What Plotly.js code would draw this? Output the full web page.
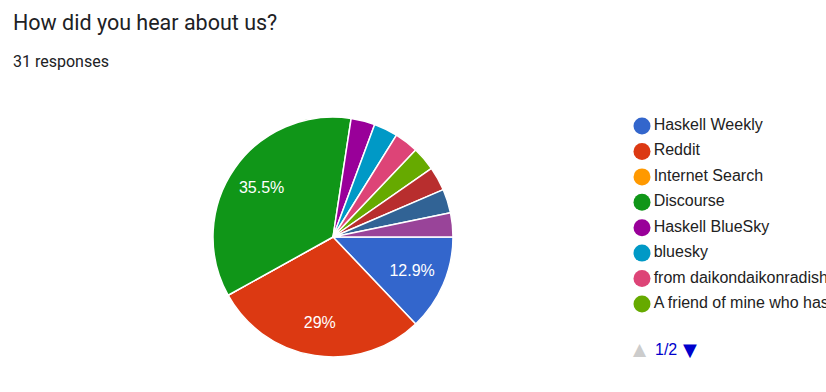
<!DOCTYPE html>
<html>
<head>
<meta charset="utf-8">
<script src="https://cdn.plot.ly/plotly-3.0.1.min.js"></script>
<style>
  html, body { margin: 0; padding: 0; background: #fff; overflow: hidden; }
  #chart { width: 826px; height: 392px; }
</style>
</head>
<body>
<div id="chart"></div>
<script>
// ---- data ----
const categories = [
  "Haskell Weekly",
  "Reddit",
  "Internet Search",
  "Discourse",
  "Haskell BlueSky",
  "bluesky",
  "from daikondaikonradish",
  "A friend of mine who has",
  "Other answer 1",
  "Other answer 2",
  "Other answer 3"
];
const counts = [4, 9, 0, 11, 1, 1, 1, 1, 1, 1, 1];
const sliceColors = ["#3366cc", "#dc3912", "#ff9900", "#109618", "#990099", "#0099c6",
                     "#dd4477", "#66aa00", "#b82e2e", "#316395", "#994499"];
const legendPageSize = 8;
const titleText = "How did you hear about us?";
const subtitleText = "31 responses";

// ---- derived ----
const total = counts.reduce((a, b) => a + b, 0);
const pctText = counts.map(v => {
  const p = v / total * 100;
  if (p < 5) return "";
  const r = Math.round(p * 10) / 10;
  return (r % 1 === 0 ? r.toFixed(0) : r.toFixed(1)) + "%";
});
// label placement: first slice label drawn by the solid pie, the others on an outer ring
const onRing = counts.map((_, i) => i !== 0);
const pieText = pctText.map((t, i) => onRing[i] ? "" : t);
const ringText = pctText.map((t, i) => onRing[i] ? t : "");

const legendLabels = categories.slice(0, legendPageSize);
const legendColors = sliceColors.slice(0, legendPageSize);
const legendIdx = legendLabels.map((_, i) => i);

const W = 826, H = 392;
const px = v => v / W, py = v => 1 - v / H;
const pieDomain = { x: [px(213), px(453)], y: [py(357), py(117)] };
const labelFont = { family: "Liberation Sans, Arial, sans-serif", size: 16, color: "#ffffff" };

const pie = {
  type: "pie",
  labels: categories,
  values: counts,
  sort: false,
  direction: "clockwise",
  rotation: 90,
  text: pieText,
  textinfo: "text",
  textposition: "inside",
  insidetextorientation: "horizontal",
  insidetextfont: labelFont,
  marker: { colors: sliceColors, line: { color: "#ffffff", width: 1.5 } },
  domain: pieDomain,
  showlegend: false,
  hoverinfo: "label+value+percent"
};

const ring = {
  type: "pie",
  labels: categories,
  values: counts,
  sort: false,
  direction: "clockwise",
  rotation: 90,
  hole: 0.45,
  text: ringText,
  textinfo: "text",
  textposition: "inside",
  insidetextorientation: "horizontal",
  insidetextfont: labelFont,
  marker: { colors: sliceColors.map(() => "rgba(0,0,0,0)"), line: { width: 0 } },
  domain: pieDomain,
  showlegend: false,
  hoverinfo: "skip"
};

const legend = {
  type: "scatter",
  mode: "markers+text",
  x: legendIdx.map(() => 0),
  y: legendIdx,
  text: legendLabels,
  textposition: "middle right",
  textfont: { family: "Liberation Sans, Arial, sans-serif", size: 16, color: "#222222" },
  marker: { size: 17, color: legendColors, line: { width: 0 } },
  cliponaxis: false,
  xaxis: "x2",
  yaxis: "y2",
  showlegend: false,
  hoverinfo: "skip"
};

const layout = {
  width: W,
  height: H,
  margin: { l: 0, r: 0, t: 0, b: 0 },
  paper_bgcolor: "#ffffff",
  plot_bgcolor: "#ffffff",
  showlegend: false,
  xaxis2: { domain: [px(632), px(652)], range: [-1, 1], visible: false, fixedrange: true },
  yaxis2: { domain: [py(304 + 12.65), py(126 - 12.65)], range: [7.5, -0.5], visible: false, fixedrange: true, anchor: "x2" },
  title: { text: "" },
  annotations: [
    { text: titleText, xref: "paper", yref: "paper", x: px(11), y: py(23), xanchor: "left", yanchor: "middle",
      showarrow: false, font: { family: "Roboto, sans-serif", size: 21.5, color: "#202124" } },
    { text: subtitleText, xref: "paper", yref: "paper", x: px(11), y: py(61), xanchor: "left", yanchor: "middle",
      showarrow: false, font: { family: "Roboto, sans-serif", size: 16, color: "#202124" } },
    { text: "▲", xref: "paper", yref: "paper", x: px(640), y: py(349), xanchor: "center", yanchor: "middle",
      showarrow: false, font: { family: "DejaVu Sans, sans-serif", size: 17, color: "#cccccc" } },
    { text: "1/2", xref: "paper", yref: "paper", x: px(653), y: py(349), xanchor: "left", yanchor: "middle",
      showarrow: false, font: { family: "Liberation Sans, Arial, sans-serif", size: 16, color: "#0000cc" } },
    { text: "▼", xref: "paper", yref: "paper", x: px(690), y: py(349), xanchor: "center", yanchor: "middle",
      showarrow: false, font: { family: "DejaVu Sans, sans-serif", size: 18, color: "#0000cc" } }
  ]
};

Plotly.newPlot("chart", [pie, ring, legend], layout, { displayModeBar: false, staticPlot: true });
</script>
</body>
</html>
